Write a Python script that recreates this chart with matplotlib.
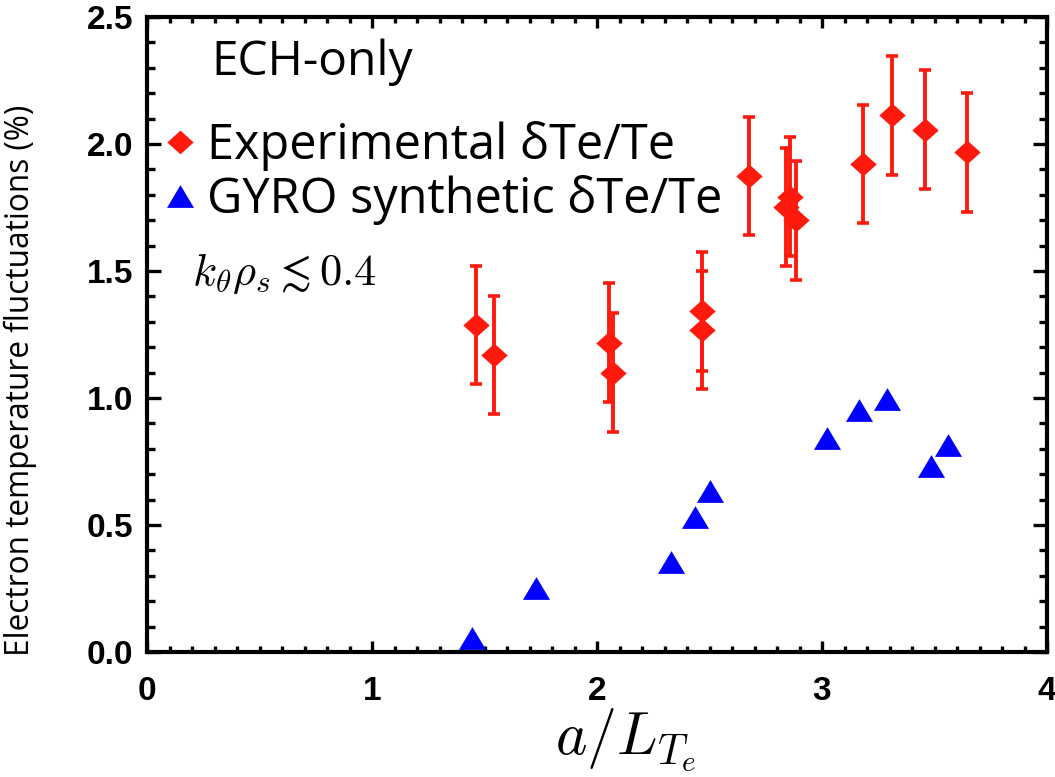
import matplotlib
matplotlib.use('Agg')
import matplotlib.pyplot as plt
from matplotlib.lines import Line2D
from matplotlib.ticker import MultipleLocator

plt.rcParams['mathtext.fontset'] = 'cm'

# ECH-only discharges: measured and GYRO synthetic fluctuation levels
exp_x = [1.46, 1.54, 2.055, 2.073, 2.465, 2.465, 2.677, 2.858, 2.839, 2.884, 3.181, 3.310, 3.458, 3.646]
exp_y = [1.287, 1.169, 1.218, 1.100, 1.341, 1.267, 1.875, 1.793, 1.751, 1.699, 1.922, 2.113, 2.057, 1.968]
exp_err = [0.233, 0.233, 0.234, 0.233, 0.234, 0.233, 0.233, 0.233, 0.233, 0.233, 0.233, 0.234, 0.234, 0.234]

gyro_x = [1.443, 1.728, 2.328, 2.435, 2.503, 3.022, 3.166, 3.289, 3.484, 3.559]
gyro_y = [0.055, 0.253, 0.354, 0.533, 0.634, 0.844, 0.953, 0.996, 0.734, 0.815]

red = '#ff1a0d'
blue = '#0000ff'
diamond = [(-1, 0), (0, 0.9), (1, 0), (0, -0.9)]
triangle = [(-1, -0.84), (1, -0.84), (0, 0.84)]

fig = plt.figure(figsize=(10.55, 7.77), dpi=100)
ax = fig.add_axes([147 / 1055, 1 - 652 / 777, 900 / 1055, 635 / 777])

ax.errorbar(exp_x, exp_y, yerr=exp_err, fmt='none', ecolor=red, elinewidth=2.8,
            capsize=4.5, capthick=2.6, zorder=2)
ax.plot(exp_x, exp_y, linestyle='none', marker=diamond, markersize=19, color=red,
        markeredgewidth=0, zorder=3)
ax.plot(gyro_x, gyro_y, linestyle='none', marker=triangle, markersize=19.5, color=blue,
        markeredgewidth=0, zorder=3)

ax.set_xlim(0, 4)
ax.set_ylim(0, 2.5)
ax.xaxis.set_major_locator(MultipleLocator(1))
ax.xaxis.set_minor_locator(MultipleLocator(0.1))
ax.yaxis.set_major_locator(MultipleLocator(0.5))
ax.yaxis.set_minor_locator(MultipleLocator(0.1))
ax.xaxis.set_major_formatter(plt.FormatStrFormatter('%d'))
ax.yaxis.set_major_formatter(plt.FormatStrFormatter('%.1f'))
ax.tick_params(which='both', direction='in', top=True, right=True, width=2.4, color='black')
ax.tick_params(axis='x', which='major', length=8, pad=17)
ax.tick_params(axis='x', which='minor', length=4)
ax.tick_params(axis='y', which='major', length=10, pad=10)
ax.tick_params(axis='y', which='minor', length=6)
for lab in ax.get_xticklabels() + ax.get_yticklabels():
    lab.set_fontfamily('Liberation Sans')
    lab.set_fontweight('bold')
    lab.set_fontsize(24)
for sp in ax.spines.values():
    sp.set_linewidth(3)

ax.set_xlabel(r'$a/L_{T_e}$', fontsize=43)
ax.xaxis.set_label_coords(0.532, -0.086)
ax.set_ylabel('Electron temperature fluctuations (%)', fontsize=22.7,
              fontfamily='Open Sans')
ax.yaxis.set_label_coords(-0.122, 0.428)

ax.text(0.05, 0.595, r'$k_\theta\rho_s \lesssim 0.4$', transform=ax.transAxes,
        fontsize=32, va='center', ha='left')

ax.text(0.072, 0.928, 'ECH-only', transform=ax.transAxes, fontsize=34.5,
        fontfamily='Open Sans', va='center', ha='left')

handles = [
    Line2D([], [], linestyle='none', marker=diamond, markersize=19, color=red, markeredgewidth=0),
    Line2D([], [], linestyle='none', marker=triangle, markersize=19.5, color=blue, markeredgewidth=0),
]
labels = ['Experimental \u03b4Te/Te', 'GYRO synthetic \u03b4Te/Te']
ax.legend(handles, labels, loc='center left', bbox_to_anchor=(0.022, 0.754),
          frameon=False, prop={'family': 'Open Sans', 'size': 35},
          handlelength=0.55, handletextpad=0.28, labelspacing=0.09,
          borderaxespad=0, borderpad=0)

fig.savefig('out.png', dpi=100)
